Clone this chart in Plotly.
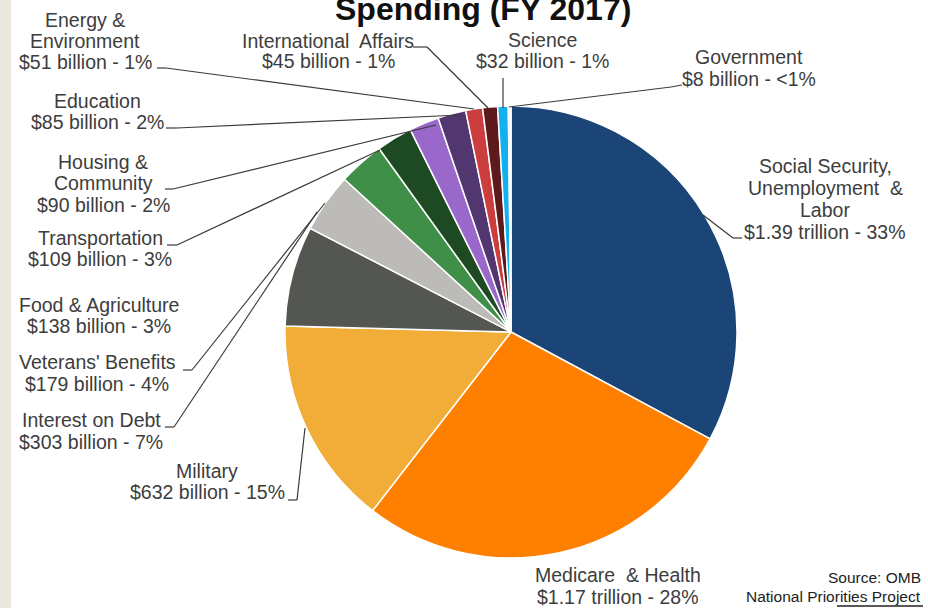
import plotly.graph_objects as go

# ---------------- data ----------------
categories = [
    "Social Security, Unemployment & Labor", "Medicare & Health", "Military",
    "Interest on Debt", "Veterans' Benefits", "Food & Agriculture",
    "Transportation", "Housing & Community", "Education",
    "Energy & Environment", "International Affairs", "Science", "Government",
]
values_billion = [1390, 1170, 632, 303, 179, 138, 109, 90, 85, 51, 45, 32, 8]
name_lines = [
    ["Social Security,", "Unemployment\u00a0 &", "Labor"],
    ["Medicare\u00a0 & Health"],
    ["Military"],
    ["Interest on Debt"],
    ["Veterans' Benefits"],
    ["Food & Agriculture"],
    ["Transportation"],
    ["Housing &", "Community"],
    ["Education"],
    ["Energy &", "Environment"],
    ["International\u00a0 Affairs"],
    ["Science"],
    ["Government"],
]
value_labels = [
    "$1.39 trillion - 33%", "$1.17 trillion - 28%", "$632 billion - 15%",
    "$303 billion - 7%", "$179 billion - 4%", "$138 billion - 3%",
    "$109 billion - 3%", "$90 billion - 2%", "$85 billion - 2%",
    "$51 billion - 1%", "$45 billion - 1%", "$32 billion - 1%",
    "$8 billion - <1%",
]
title_text = "Spending (FY 2017)"
source_lines = ["Source: OMB", "National Priorities Project"]

# ---------------- style / layout ----------------
colors = ["#1b4576", "#ff8000", "#f2ac38", "#545652", "#bcbbb7", "#3f8f48",
          "#1e4a23", "#9a68cb", "#513670", "#cc3d3d", "#5e1a1a", "#12b0ee",
          "#f4f4f4"]
W, H = 928, 608
FONT = "Liberation Sans, Arial, sans-serif"
TXT = "#3d3d3d"

# label placement (pixel): centre x, first-line y, line pitch
label_pos = [
    (825, 166, 22), (618, 575, 21.5), (207, 470.5, 21), (91, 420, 21.5),
    (97, 362, 22), (98.5, 305, 21), (100, 237.5, 21), (103, 161.5, 21.8),
    (97, 101.5, 20.5), (85, 20, 21), (328, 41, 20.5), (542, 40, 21.5),
    (749, 57, 22),
]
# leader polylines (pixel)
leaders = [
    [(742, 238), (733, 238), (703, 215)],
    None,
    [(288, 500), (297, 500), (305, 428)],
    [(165, 427), (174, 427), (317, 212)],
    [(183, 370), (192, 370), (325, 203)],
    None,
    [(167, 245), (177, 245), (380, 150)],
    [(165, 189), (173, 189), (436, 125)],
    [(166, 128), (177, 128), (460, 115)],
    [(157, 68), (166, 68), (474, 109)],
    [(413, 47), (427, 47), (488, 108)],
    [(503, 78), (503, 108)],
    [(682, 85), (671, 87), (509, 107)],
]


def px(x, y):
    return x / W, 1 - y / H


cx, cy, r = 511, 332, 226
fig = go.Figure(go.Pie(
    labels=categories, values=values_billion, sort=False,
    direction="clockwise", rotation=0, textinfo="none",
    marker=dict(colors=colors, line=dict(color="white", width=1.5)),
    domain=dict(x=[(cx - r) / W, (cx + r) / W],
                y=[1 - (cy + r) / H, 1 - (cy - r) / H]),
    showlegend=False, hoverinfo="label+value",
))

annotations = []
for lines, vlab, (lx, ly, pitch) in zip(name_lines, value_labels, label_pos):
    for i, t in enumerate(lines + [vlab]):
        x, y = px(lx, ly + i * pitch)
        annotations.append(dict(
            x=x, y=y, xref="paper", yref="paper", text=t, showarrow=False,
            xanchor="center", yanchor="middle",
            font=dict(family=FONT, size=19.5, color=TXT)))

tx, ty = px(482.5, 9)
annotations.append(dict(
    x=tx, y=ty, xref="paper", yref="paper", text="<b>" + title_text + "</b>",
    showarrow=False, xanchor="center", yanchor="middle",
    font=dict(family=FONT, size=32, color="#111111")))

for i, t in enumerate(source_lines):
    x, y = px(923, 577 + i * 19)
    annotations.append(dict(
        x=x, y=y, xref="paper", yref="paper", text=t, showarrow=False,
        xanchor="right", yanchor="middle",
        font=dict(family=FONT, size=15.5, color="#222222")))

shapes = [dict(type="rect", xref="paper", yref="paper", x0=0, x1=11 / W,
               y0=0, y1=1, fillcolor="#eae8dc", line=dict(width=0),
               layer="below")]
for pl in leaders:
    if not pl:
        continue
    for (x0, y0), (x1, y1) in zip(pl[:-1], pl[1:]):
        a0, b0 = px(x0, y0)
        a1, b1 = px(x1, y1)
        shapes.append(dict(type="line", xref="paper", yref="paper",
                           x0=a0, y0=b0, x1=a1, y1=b1,
                           line=dict(color="#3a3a3a", width=1.2)))
u0, v0 = px(837, 606)
u1, v1 = px(923, 606)
shapes.append(dict(type="line", xref="paper", yref="paper", x0=u0, y0=v0,
                   x1=u1, y1=v1, line=dict(color="#222222", width=1.5)))

fig.update_layout(
    width=W, height=H, margin=dict(l=0, r=0, t=0, b=0),
    paper_bgcolor="white", plot_bgcolor="white",
    annotations=annotations, shapes=shapes,
)
fig.write_html(
    "out.html",
    config={"displayModeBar": False},
    post_script="document.body.style.margin='0px';"
                "document.body.style.overflow='hidden';",
)
